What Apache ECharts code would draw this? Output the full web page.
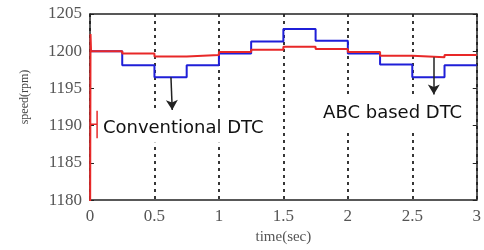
<!DOCTYPE html>
<html>
<head>
<meta charset="utf-8">
<script src="https://cdn.jsdelivr.net/npm/echarts@6/dist/echarts.min.js"></script>
<style>
html, body { margin: 0; padding: 0; background: #fff; }
#main { width: 484px; height: 250px; }
</style>
</head>
<body>
<div id="main"></div>
<script>
// step start times (sec), last one closes the trace
const stepTimes = [0, 0.25, 0.5, 0.75, 1, 1.25, 1.5, 1.75, 2, 2.25, 2.5, 2.75, 3];
// conventional DTC speed (rpm), blue
const convSpeed = [1200, 1198.1, 1196.5, 1198.1, 1199.7, 1201.3, 1203, 1201.4, 1199.7, 1198.2, 1196.5, 1198.1];
// ABC based DTC speed (rpm), red
const abcSpeed = [1200, 1199.7, 1199.3, 1199.5, 1199.9, 1200.2, 1200.6, 1200.3, 1199.9, 1199.4, 1199.2, 1199.5];
// start-up transient of the red trace
const startTime = [0, 0.004, 0.008];
const startSpeed = [1170, 1202.3, 1200];
const blipTime = [0.004, 0.055, 0.055, 0.055];
const blipSpeed = [1190.2, 1190.2, 1188.3, 1192];
// tick labels
const xTicks = ['0', '0.5', '1', '1.5', '2', '2.5', '3'];
const yTicks = ['1180', '1185', '1190', '1195', '1200', '1205'];

function steps(vals) {
    let d = vals.map((v, i) => [stepTimes[i], v]);
    d.push([stepTimes[vals.length], vals[vals.length - 1]]);
    return d;
}
function pairs(xs, ys) {
    return xs.map((x, i) => [x, ys[i]]);
}

let chart = echarts.init(document.getElementById('main'));

const frame = { show: true, onZero: false, lineStyle: { color: '#222', width: 1.5 } };
const tickFont = { fontFamily: 'Liberation Serif', fontSize: 17, color: '#555' };

let option = {
    animation: false,
    grid: { left: 90, right: 4, top: 14, bottom: 44 },
    xAxis: [{
        type: 'value', min: 0, max: 3, interval: 0.5,
        axisLine: frame,
        axisTick: { show: false },
        axisLabel: Object.assign({ margin: 8, formatter: v => xTicks[Math.round(v * 2)] }, tickFont),
        splitLine: { show: true, lineStyle: { color: '#222', width: 1.8, type: [3, 4] } },
        name: 'time(sec)', nameLocation: 'middle', nameGap: 28,
        nameTextStyle: { fontFamily: 'Liberation Serif', fontSize: 15, color: '#555' }
    }, {
        type: 'value', min: 0, max: 3, interval: 0.5, position: 'top',
        axisLine: frame, axisTick: { show: false }, axisLabel: { show: false }, splitLine: { show: false }
    }],
    yAxis: [{
        type: 'value', min: 1180, max: 1205, interval: 5,
        axisLine: frame,
        axisTick: { show: true, inside: true, length: 4, lineStyle: { color: '#222' } },
        axisLabel: Object.assign({ margin: 8, formatter: v => yTicks[Math.round((v - 1180) / 5)] }, tickFont),
        splitLine: { show: false }
    }, {
        type: 'value', min: 1180, max: 1205, interval: 5, position: 'right',
        axisLine: frame,
        axisTick: { show: true, inside: true, length: 4, lineStyle: { color: '#222' } },
        axisLabel: { show: false }, splitLine: { show: false }
    }],
    series: [{
        name: 'Conventional DTC', type: 'line', step: 'end', symbol: 'none',
        lineStyle: { color: '#1f1fd8', width: 2 },
        data: steps(convSpeed),
        markLine: {
            silent: true, symbol: ['none', 'arrow'], symbolSize: [9, 10],
            label: { show: false },
            lineStyle: { color: '#222', width: 1.5, type: 'solid' },
            data: [[{ coord: [0.628, 1196.5] }, { coord: [0.638, 1192.1] }]]
        }
    }, {
        name: 'ABC based DTC', type: 'line', step: 'end', symbol: 'none',
        lineStyle: { color: '#e82828', width: 2 },
        data: steps(abcSpeed),
        markLine: {
            silent: true, symbol: ['none', 'arrow'], symbolSize: [9, 10],
            label: { show: false },
            lineStyle: { color: '#222', width: 1.5, type: 'solid' },
            data: [[{ coord: [2.667, 1199.2] }, { coord: [2.667, 1194.2] }]]
        }
    }, {
        type: 'line', symbol: 'none',
        lineStyle: { color: '#e82828', width: 2 },
        data: pairs(startTime, startSpeed)
    }, {
        type: 'line', symbol: 'none',
        lineStyle: { color: '#e82828', width: 1.5 },
        data: pairs(blipTime, blipSpeed)
    }]
};
chart.setOption(option);

// annotations placed in data coordinates
function px(t, v) {
    return chart.convertToPixel({ gridIndex: 0 }, [t, v]);
}
function box(t0, v0, t1, v1) {
    let a = px(t0, v0), b = px(t1, v1);
    return {
        type: 'rect', z: 1,
        shape: { x: a[0], y: a[1], width: b[0] - a[0], height: b[1] - a[1] },
        style: { fill: '#fff' }
    };
}
function label(text, t, v, size) {
    let p = px(t, v);
    return {
        type: 'text', z: 5, x: p[0], y: p[1],
        style: {
            text: text, font: size + 'px "DejaVu Sans"', fill: '#111',
            textVerticalAlign: 'middle', verticalAlign: 'middle'
        }
    };
}

chart.setOption({
    graphic: [
        box(0.077, 1192.1, 1.37, 1187.7),
        box(1.77, 1194.2, 2.92, 1189.5),
        label('Conventional DTC', 0.1, 1189.7, 18),
        label('ABC based DTC', 1.808, 1191.7, 18),
        {
            type: 'text', z: 5, x: 25, y: 97, rotation: Math.PI / 2,
            style: {
                text: 'speed(rpm)', font: '12px "Liberation Serif"', fill: '#444',
                textAlign: 'center', align: 'center',
                textVerticalAlign: 'middle', verticalAlign: 'middle'
            }
        }
    ]
});
</script>
</body>
</html>
